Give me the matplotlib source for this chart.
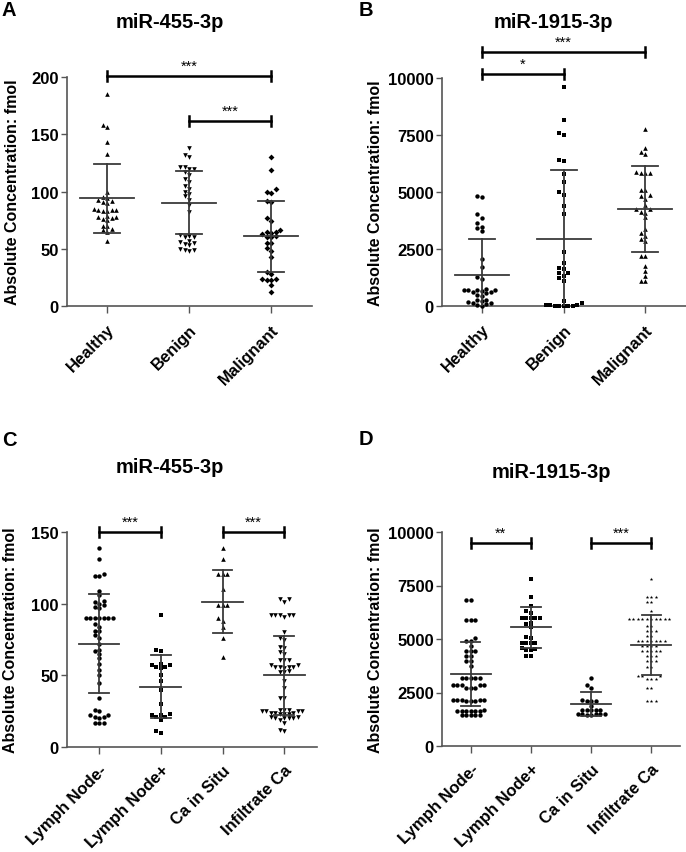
import numpy as np
import matplotlib
matplotlib.use("Agg")
import matplotlib.pyplot as plt

plt.rcParams['font.family'] = ['Liberation Sans', 'DejaVu Sans']

# ---- data ----
# panel A: miR-455-3p (fmol)
a_groups = ['Healthy', 'Benign', 'Malignant']
a_healthy = [185, 158, 156, 143, 133, 100, 95, 94, 93, 92, 91, 90, 85, 84, 84, 84, 83, 83,
             79, 78, 78, 77, 76, 75, 70, 70, 67, 66, 65, 57]
a_benign = [138, 132, 130, 121, 121, 120, 120, 117, 114, 111, 108, 105, 102, 100, 98, 96, 93,
            88, 82, 62, 61, 60, 60, 57, 56, 55, 54, 53, 50, 49, 49, 48]
a_malignant = [130, 119, 102, 100, 99, 92, 91, 77, 74, 66, 65, 65, 64, 63, 61, 60, 60, 55, 55,
               51, 48, 43, 30, 28, 24, 23, 23, 24, 18, 12]
a_mean = [94, 90, 61]
a_sd = [30, 27.5, 31]

# panel B: miR-1915-3p (fmol)
b_groups = ['Healthy', 'Benign', 'Malignant']
b_healthy = [4830, 4800, 4050, 3880, 3620, 3480, 3400, 3300, 2050, 1710, 1260, 1200, 760, 720,
             680, 650, 600, 560, 620, 680, 720, 470, 450, 270, 210, 150, 80, 20, 40, 120, 190, 260]
b_benign = [9620, 8150, 7580, 7500, 6370, 6410, 5810, 5420, 4980, 4880, 4390, 4030, 2370, 1900,
            1680, 1610, 1460, 1430, 1240, 1320, 1100, 120, 40, 20, 10, 0, 0, 10, 30, 60, 200]
b_malignant = [7760, 6910, 6760, 6660, 5860, 5850, 5840, 5850, 5090, 5080, 4830, 4850, 4690,
               4440, 4250, 4270, 4100, 4120, 3920, 3370, 3220, 3050, 2930, 2850, 2200, 2180,
               1760, 1540, 1320, 1100, 1110]
b_mean = [1360, 2930, 4250]
b_sd = [1570, 3030, 1875]

# panel C: miR-455-3p by subgroup
c_groups = ['Lymph Node-', 'Lymph Node+', 'Ca in Situ', 'Infiltrate Ca']
c_ln_neg = [139, 131, 121, 119, 119, 109, 106, 102, 101, 100, 99, 98, 97, 90, 90, 90, 90, 90, 90,
            90, 86, 84, 81, 81, 78, 76, 72, 68, 67, 65, 62, 58, 54, 50, 45, 34, 26, 25, 22, 22,
            21, 21, 20, 17, 17, 17]
c_ln_pos = [92, 68, 67, 58, 57, 57, 56, 56, 55, 50, 46, 40, 30, 23, 22, 22, 21, 21, 19, 11, 10]
c_in_situ = [139, 131, 121, 121, 121, 110, 99, 99, 99, 90, 88, 84, 76, 63]
c_infiltrate = [103, 103, 101, 92, 92, 92, 92, 92, 91, 80, 76, 75, 70, 69, 66, 65, 61, 61, 61,
                57, 57, 56, 56, 56, 56, 55, 53, 52, 52, 46, 41, 34, 34, 26, 26, 26, 25, 25, 25,
                25, 24, 24, 24, 23, 23, 23, 21, 21, 20, 20, 20, 20, 19, 17, 12, 11]
c_mean = [72, 42, 101.5, 50]
c_sd = [34.5, 22, 21.7, 27.4]

# panel D: miR-1915-3p by subgroup
d_groups = ['Lymph Node-', 'Lymph Node+', 'Ca in Situ', 'Infiltrate Ca']
d_ln_neg = [6820, 6820, 5900, 5900, 5900, 5050, 4920, 4920, 4690, 4450, 4450, 4450, 4220, 4220,
            3990, 3990, 3750, 3180, 3180, 3180, 3180, 3180, 2870, 2870, 2870, 2870, 2870, 2700,
            2700, 2700, 2170, 2170, 2150, 2120, 2100, 2100, 2130, 2160, 1650, 1650, 1640, 1620,
            1640, 1650, 1660, 1450, 1450, 1440, 1450, 1460]
d_ln_pos = [7800, 6950, 6530, 6320, 6220, 5960, 5960, 5960, 5960, 5960, 5750, 5700, 5540, 5080,
            5060, 4810, 4800, 4820, 4790, 4600, 4500, 4480, 4520, 4220, 4210]
d_in_situ = [3180, 2850, 2700, 2130, 2120, 2110, 2120, 1880, 1700, 1690, 1700, 1700, 1690, 1500,
             1500, 1490, 1500, 1500, 1430, 1430]
d_infiltrate = [7800, 6950, 6950, 6950, 6740, 6740, 6320] + [5930] * 10 + \
    [5620, 5620, 5390, 5390, 5390, 5150, 5150] + [4920] * 7 + [4690] * 4 + [4450] * 5 + \
    [4220] * 3 + [3990] * 3 + [3680] * 2 + [3260] * 3 + [3130] * 3 + [2700] * 2 + [2120] * 3
d_mean = [3370, 5540, 1970, 4720]
d_sd = [1500, 950, 560, 1400]


def swarm(ax, x0, vals, d):
    # greedy beeswarm in pixel space
    vals = np.asarray(vals, dtype=float)
    pts = ax.transData.transform(np.column_stack([np.full(len(vals), x0), vals]))
    xc = pts[0, 0]
    ypix = pts[:, 1]
    xs = np.zeros(len(vals))
    placed = []
    cands = [0.0]
    for k in range(1, 30):
        cands += [-k * d, k * d]
    for i in np.argsort(ypix):
        y = ypix[i]
        for off in cands:
            if all((px - off) ** 2 + (py - y) ** 2 >= (d * 0.9) ** 2 for px, py in placed):
                break
        placed.append((off, y))
        xs[i] = xc + off
    back = ax.transData.inverted().transform(np.column_stack([xs, ypix]))
    return back[:, 0]


def px_per_unit(ax):
    p0 = ax.transData.transform((0, 0))
    p1 = ax.transData.transform((0, 1))
    return p1[1] - p0[1]


def panel(ax, groups, data, means, sds, markers, sizes, ymax, yticks, xlim, brackets):
    ax.set_xlim(*xlim)
    ax.set_ylim(0, ymax)
    for s in ['top', 'right']:
        ax.spines[s].set_visible(False)
    for s in ['left', 'bottom']:
        ax.spines[s].set_color('#555555')
        ax.spines[s].set_linewidth(1.2)
    ax.set_yticks(yticks)
    ax.set_yticklabels([str(t) for t in yticks], fontsize=12, fontweight='bold')
    ax.set_xticks(range(len(groups)))
    ax.set_xticklabels(groups, rotation=45, ha='right', rotation_mode='anchor',
                       fontsize=12, fontweight='bold')
    ax.tick_params(axis='both', direction='out', length=4, width=1.0, color='#555555', pad=2)
    ax.tick_params(axis='x', length=5, pad=6)

    for i, vals in enumerate(data):
        xs = swarm(ax, i, vals, 4.5)
        ax.scatter(xs, vals, marker=markers[i], s=sizes[i], color='black',
                   linewidths=0, clip_on=False, zorder=3)
        m, sd = means[i], sds[i]
        ax.plot([i - 0.33, i + 0.33], [m, m], color='#3a3a3a', lw=1.3, zorder=4)
        ax.plot([i - 0.16, i + 0.16], [m + sd, m + sd], color='#3a3a3a', lw=1.3, zorder=4)
        ax.plot([i - 0.16, i + 0.16], [m - sd, m - sd], color='#3a3a3a', lw=1.3, zorder=4)
        ax.plot([i, i], [max(m - sd, 0), m + sd], color='#3a3a3a', lw=1.3, zorder=4)

    k = px_per_unit(ax)
    for g1, g2, yb, stars in brackets:
        h = 5.0 / k
        ax.plot([g1, g2], [yb, yb], color='black', lw=1.8, clip_on=False, zorder=5)
        for g in (g1, g2):
            ax.plot([g, g], [yb - h, yb + h], color='black', lw=1.8, clip_on=False, zorder=5)
        ax.annotate(stars, xy=((g1 + g2) / 2, yb), xytext=(0, 2), textcoords='offset points',
                    ha='center', va='bottom', fontsize=10.5, annotation_clip=False)


W, H = 686, 853
fig = plt.figure(figsize=(W / 100, H / 100), dpi=100)


def box(l, r, t, b):
    return [l / W, 1 - b / H, (r - l) / W, (b - t) / H]


axA = fig.add_axes(box(67, 312, 78, 307))
axB = fig.add_axes(box(442, 686, 79, 307))
axC = fig.add_axes(box(67, 317, 533, 748))
axD = fig.add_axes(box(442, 680, 533, 747))

panel(axA, a_groups, [a_healthy, a_benign, a_malignant], a_mean, a_sd,
      ['^', 'v', 'D'], [11, 11, 9], 200, [0, 50, 100, 150, 200], (-0.49, 2.5),
      [(0, 2, 201, '***'), (1, 2, 162, '***')])
panel(axB, b_groups, [b_healthy, b_benign, b_malignant], b_mean, b_sd,
      ['o', 's', '^'], [10, 9, 11], 10000, [0, 2500, 5000, 7500, 10000], (-0.49, 2.5),
      [(0, 2, 11140, '***'), (0, 1, 10175, '*')])
panel(axC, c_groups, [c_ln_neg, c_ln_pos, c_in_situ, c_infiltrate], c_mean, c_sd,
      ['o', 's', '^', 'v'], [10, 9, 11, 11], 150, [0, 50, 100, 150], (-0.52, 3.53),
      [(0, 1, 150, '***'), (2, 3, 150, '***')])
panel(axD, d_groups, [d_ln_neg, d_ln_pos, d_in_situ, d_infiltrate], d_mean, d_sd,
      ['o', 's', 'o', '*'], [10, 9, 10, 7], 10000, [0, 2500, 5000, 7500, 10000], (-0.48, 3.48),
      [(0, 1, 9500, '**'), (2, 3, 9500, '***')])

# y labels, titles, panel letters
ylab = 'Absolute Concentration: fmol'
for ax, xl in [(axA, 13), (axB, 376), (axC, 11), (axD, 376)]:
    pos = ax.get_position()
    fig.text(xl / W, pos.y0 + pos.height / 2, ylab, rotation=90, ha='center', va='center',
             fontsize=11.5, fontweight='bold')

for txt, x, y in [('miR-455-3p', 170, 22), ('miR-1915-3p', 553, 23),
                  ('miR-455-3p', 170, 468), ('miR-1915-3p', 551, 473)]:
    fig.text(x / W, 1 - y / H, txt, ha='center', va='center', fontsize=14.5, fontweight='bold')

for txt, x, y in [('A', 2, 10), ('B', 359, 10), ('C', 2, 441), ('D', 359, 440)]:
    fig.text(x / W, 1 - y / H, txt, ha='left', va='center', fontsize=14.5, fontweight='bold')

fig.savefig('out.png', dpi=100)
